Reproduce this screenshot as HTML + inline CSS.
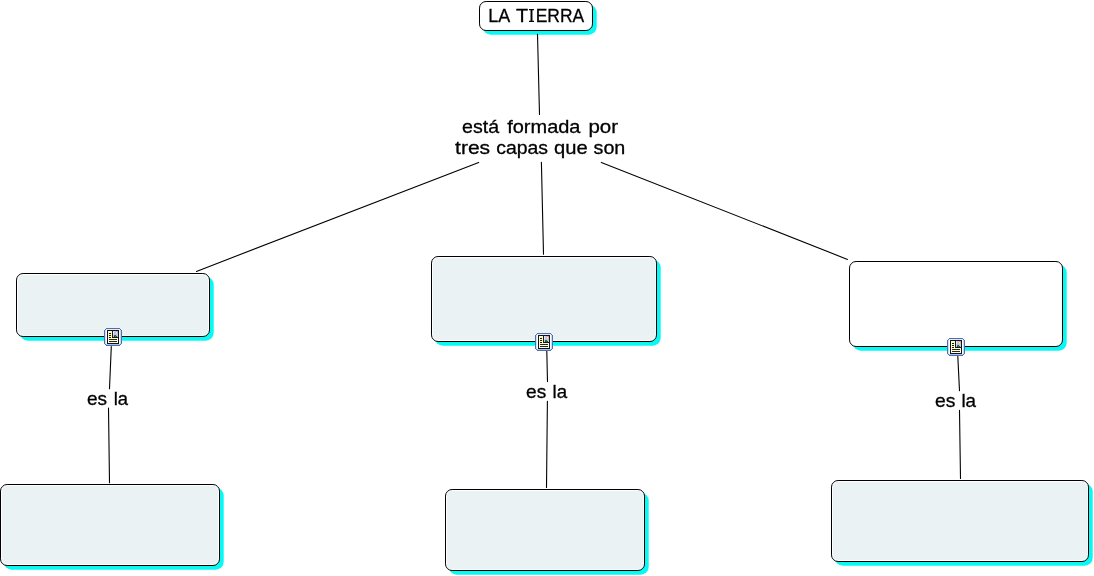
<!DOCTYPE html>
<html><head><meta charset="utf-8"><title>LA TIERRA</title>
<style>
html,body{margin:0;padding:0;background:#fff;width:1094px;height:576px;overflow:hidden}
svg{display:block;position:absolute;left:0;top:0;will-change:transform}
text{font-family:"Liberation Sans",sans-serif;fill:#000;stroke:#000;stroke-width:0.3px}
</style></head><body>
<svg width="1094" height="576" viewBox="0 0 1094 576">
<rect x="482.7" y="4.7" width="114" height="30" rx="8" fill="#08f8f4"/>
<rect x="19.7" y="276.7" width="194" height="64" rx="8" fill="#08f8f4"/>
<rect x="434.7" y="259.7" width="226" height="86" rx="8" fill="#08f8f4"/>
<rect x="852.7" y="264.7" width="214" height="86" rx="8" fill="#08f8f4"/>
<rect x="3.7" y="487.7" width="220" height="82" rx="8" fill="#08f8f4"/>
<rect x="448.7" y="492.7" width="200" height="82" rx="8" fill="#08f8f4"/>
<rect x="834.7" y="483.7" width="258" height="82" rx="8" fill="#08f8f4"/>
<g stroke="#000" stroke-width="1.1" stroke-linecap="round" fill="none">
<line x1="537.5" y1="34.2" x2="539.5" y2="114.5"/>
<line x1="478.7" y1="162.4" x2="196.4" y2="271.4"/>
<line x1="541.4" y1="162.2" x2="543.5" y2="254.3"/>
<line x1="601.3" y1="162.4" x2="847.5" y2="259.4"/>
<line x1="111.3" y1="346.5" x2="109.5" y2="388.7"/>
<line x1="108.5" y1="408.0" x2="109.5" y2="482.7"/>
<line x1="546.8" y1="351.0" x2="547.5" y2="381.6"/>
<line x1="547.4" y1="401.2" x2="546.5" y2="487.5"/>
<line x1="957.8" y1="356.2" x2="959.5" y2="390.6"/>
<line x1="959.5" y1="410.4" x2="960.5" y2="478.4"/>
</g>
<rect x="479.5" y="1.5" width="113" height="29" rx="6.6" fill="#fff" stroke="#000" stroke-width="1"/>
<rect x="16.5" y="273.5" width="193" height="63" rx="6.6" fill="#fff" stroke="#000" stroke-width="1"/>
<rect x="18" y="275" width="190" height="60" rx="5.1" fill="#eaf2f4"/>
<rect x="431.5" y="256.5" width="225" height="85" rx="6.6" fill="#fff" stroke="#000" stroke-width="1"/>
<rect x="433" y="258" width="222" height="82" rx="5.1" fill="#eaf2f4"/>
<rect x="849.5" y="261.5" width="213" height="85" rx="6.6" fill="#fff" stroke="#000" stroke-width="1"/>
<rect x="0.5" y="484.5" width="219" height="81" rx="6.6" fill="#fff" stroke="#000" stroke-width="1"/>
<rect x="2" y="486" width="216" height="78" rx="5.1" fill="#eaf2f4"/>
<rect x="445.5" y="489.5" width="199" height="81" rx="6.6" fill="#fff" stroke="#000" stroke-width="1"/>
<rect x="447" y="491" width="196" height="78" rx="5.1" fill="#eaf2f4"/>
<rect x="831.5" y="480.5" width="257" height="81" rx="6.6" fill="#fff" stroke="#000" stroke-width="1"/>
<rect x="833" y="482" width="254" height="78" rx="5.1" fill="#eaf2f4"/>
<rect x="105" y="329" width="16" height="16" fill="#ffffff"/><rect x="106" y="329" width="14" height="1" fill="#e4ecfc"/><rect x="106" y="344" width="14" height="1" fill="#a8c4f0"/><rect x="105" y="330" width="1" height="14" fill="#d0e0f8"/><rect x="120" y="330" width="1" height="14" fill="#c4d8f8"/><rect x="106" y="328" width="14" height="1" fill="#4f6eaa"/><rect x="106" y="345" width="14" height="1" fill="#4f6eaa"/><rect x="104" y="330" width="1" height="14" fill="#4f6eaa"/><rect x="121" y="330" width="1" height="14" fill="#4f6eaa"/><rect x="105" y="329" width="1" height="1" fill="#4f6eaa"/><rect x="120" y="329" width="1" height="1" fill="#4f6eaa"/><rect x="105" y="344" width="1" height="1" fill="#4f6eaa"/><rect x="120" y="344" width="1" height="1" fill="#4f6eaa"/><rect x="107" y="330" width="12" height="14" fill="#10121e"/><rect x="108" y="331" width="10" height="3" fill="#fafac0"/><rect x="108" y="334" width="10" height="3" fill="#fbfbc8"/><rect x="108" y="337" width="10" height="3" fill="#fcfcd6"/><rect x="108" y="340" width="10" height="3" fill="#fefee8"/><rect x="112" y="330" width="1" height="8" fill="#141a0c"/><rect x="112" y="337" width="6" height="1" fill="#141a0c"/><rect x="113" y="331" width="1" height="1" fill="#dde6f8"/><rect x="114" y="331" width="1" height="1" fill="#c8c8e8"/><rect x="115" y="331" width="1" height="1" fill="#e8b898"/><rect x="116" y="331" width="1" height="1" fill="#eaa878"/><rect x="117" y="331" width="1" height="1" fill="#d09a70"/><rect x="113" y="332" width="1" height="1" fill="#eef2fc"/><rect x="114" y="332" width="1" height="1" fill="#b8c0e8"/><rect x="115" y="332" width="1" height="1" fill="#e0b8c0"/><rect x="116" y="332" width="1" height="1" fill="#fce8d8"/><rect x="117" y="332" width="1" height="1" fill="#e8b088"/><rect x="113" y="333" width="1" height="1" fill="#e0e8f8"/><rect x="114" y="333" width="1" height="1" fill="#b8c8f0"/><rect x="115" y="333" width="1" height="1" fill="#d0c0e0"/><rect x="116" y="333" width="1" height="1" fill="#d8d0f0"/><rect x="117" y="333" width="1" height="1" fill="#b8c8e8"/><rect x="113" y="334" width="1" height="1" fill="#c8d8f4"/><rect x="114" y="334" width="1" height="1" fill="#b0c4ec"/><rect x="115" y="334" width="1" height="1" fill="#b0c4ec"/><rect x="116" y="334" width="1" height="1" fill="#b8cce8"/><rect x="117" y="334" width="1" height="1" fill="#c0d0e0"/><rect x="113" y="335" width="1" height="1" fill="#c0d0f0"/><rect x="114" y="335" width="1" height="1" fill="#3a6a80"/><rect x="115" y="335" width="1" height="1" fill="#2e6040"/><rect x="116" y="335" width="1" height="1" fill="#a8c8c0"/><rect x="117" y="335" width="1" height="1" fill="#c0d0e0"/><rect x="113" y="336" width="1" height="1" fill="#b8c8e8"/><rect x="114" y="336" width="1" height="1" fill="#204830"/><rect x="115" y="336" width="1" height="1" fill="#3a7a3a"/><rect x="116" y="336" width="1" height="1" fill="#2a5a2a"/><rect x="117" y="336" width="1" height="1" fill="#b0c8c8"/><rect x="109" y="333" width="2" height="1" fill="#1e1a08"/><rect x="109" y="335" width="2" height="1" fill="#1e1a08"/><rect x="109" y="337" width="2" height="1" fill="#1e1a08"/><rect x="109" y="339" width="8" height="1" fill="#2a2612"/><rect x="109" y="341" width="8" height="1" fill="#2a2612"/>
<rect x="536" y="334" width="16" height="16" fill="#ffffff"/><rect x="537" y="334" width="14" height="1" fill="#e4ecfc"/><rect x="537" y="349" width="14" height="1" fill="#a8c4f0"/><rect x="536" y="335" width="1" height="14" fill="#d0e0f8"/><rect x="551" y="335" width="1" height="14" fill="#c4d8f8"/><rect x="537" y="333" width="14" height="1" fill="#4f6eaa"/><rect x="537" y="350" width="14" height="1" fill="#4f6eaa"/><rect x="535" y="335" width="1" height="14" fill="#4f6eaa"/><rect x="552" y="335" width="1" height="14" fill="#4f6eaa"/><rect x="536" y="334" width="1" height="1" fill="#4f6eaa"/><rect x="551" y="334" width="1" height="1" fill="#4f6eaa"/><rect x="536" y="349" width="1" height="1" fill="#4f6eaa"/><rect x="551" y="349" width="1" height="1" fill="#4f6eaa"/><rect x="538" y="335" width="12" height="14" fill="#10121e"/><rect x="539" y="336" width="10" height="3" fill="#fafac0"/><rect x="539" y="339" width="10" height="3" fill="#fbfbc8"/><rect x="539" y="342" width="10" height="3" fill="#fcfcd6"/><rect x="539" y="345" width="10" height="3" fill="#fefee8"/><rect x="543" y="335" width="1" height="8" fill="#141a0c"/><rect x="543" y="342" width="6" height="1" fill="#141a0c"/><rect x="544" y="336" width="1" height="1" fill="#dde6f8"/><rect x="545" y="336" width="1" height="1" fill="#c8c8e8"/><rect x="546" y="336" width="1" height="1" fill="#e8b898"/><rect x="547" y="336" width="1" height="1" fill="#eaa878"/><rect x="548" y="336" width="1" height="1" fill="#d09a70"/><rect x="544" y="337" width="1" height="1" fill="#eef2fc"/><rect x="545" y="337" width="1" height="1" fill="#b8c0e8"/><rect x="546" y="337" width="1" height="1" fill="#e0b8c0"/><rect x="547" y="337" width="1" height="1" fill="#fce8d8"/><rect x="548" y="337" width="1" height="1" fill="#e8b088"/><rect x="544" y="338" width="1" height="1" fill="#e0e8f8"/><rect x="545" y="338" width="1" height="1" fill="#b8c8f0"/><rect x="546" y="338" width="1" height="1" fill="#d0c0e0"/><rect x="547" y="338" width="1" height="1" fill="#d8d0f0"/><rect x="548" y="338" width="1" height="1" fill="#b8c8e8"/><rect x="544" y="339" width="1" height="1" fill="#c8d8f4"/><rect x="545" y="339" width="1" height="1" fill="#b0c4ec"/><rect x="546" y="339" width="1" height="1" fill="#b0c4ec"/><rect x="547" y="339" width="1" height="1" fill="#b8cce8"/><rect x="548" y="339" width="1" height="1" fill="#c0d0e0"/><rect x="544" y="340" width="1" height="1" fill="#c0d0f0"/><rect x="545" y="340" width="1" height="1" fill="#3a6a80"/><rect x="546" y="340" width="1" height="1" fill="#2e6040"/><rect x="547" y="340" width="1" height="1" fill="#a8c8c0"/><rect x="548" y="340" width="1" height="1" fill="#c0d0e0"/><rect x="544" y="341" width="1" height="1" fill="#b8c8e8"/><rect x="545" y="341" width="1" height="1" fill="#204830"/><rect x="546" y="341" width="1" height="1" fill="#3a7a3a"/><rect x="547" y="341" width="1" height="1" fill="#2a5a2a"/><rect x="548" y="341" width="1" height="1" fill="#b0c8c8"/><rect x="540" y="338" width="2" height="1" fill="#1e1a08"/><rect x="540" y="340" width="2" height="1" fill="#1e1a08"/><rect x="540" y="342" width="2" height="1" fill="#1e1a08"/><rect x="540" y="344" width="8" height="1" fill="#2a2612"/><rect x="540" y="346" width="8" height="1" fill="#2a2612"/>
<rect x="948" y="339" width="16" height="16" fill="#ffffff"/><rect x="949" y="339" width="14" height="1" fill="#e4ecfc"/><rect x="949" y="354" width="14" height="1" fill="#a8c4f0"/><rect x="948" y="340" width="1" height="14" fill="#d0e0f8"/><rect x="963" y="340" width="1" height="14" fill="#c4d8f8"/><rect x="949" y="338" width="14" height="1" fill="#4f6eaa"/><rect x="949" y="355" width="14" height="1" fill="#4f6eaa"/><rect x="947" y="340" width="1" height="14" fill="#4f6eaa"/><rect x="964" y="340" width="1" height="14" fill="#4f6eaa"/><rect x="948" y="339" width="1" height="1" fill="#4f6eaa"/><rect x="963" y="339" width="1" height="1" fill="#4f6eaa"/><rect x="948" y="354" width="1" height="1" fill="#4f6eaa"/><rect x="963" y="354" width="1" height="1" fill="#4f6eaa"/><rect x="950" y="340" width="12" height="14" fill="#10121e"/><rect x="951" y="341" width="10" height="3" fill="#fafac0"/><rect x="951" y="344" width="10" height="3" fill="#fbfbc8"/><rect x="951" y="347" width="10" height="3" fill="#fcfcd6"/><rect x="951" y="350" width="10" height="3" fill="#fefee8"/><rect x="955" y="340" width="1" height="8" fill="#141a0c"/><rect x="955" y="347" width="6" height="1" fill="#141a0c"/><rect x="956" y="341" width="1" height="1" fill="#dde6f8"/><rect x="957" y="341" width="1" height="1" fill="#c8c8e8"/><rect x="958" y="341" width="1" height="1" fill="#e8b898"/><rect x="959" y="341" width="1" height="1" fill="#eaa878"/><rect x="960" y="341" width="1" height="1" fill="#d09a70"/><rect x="956" y="342" width="1" height="1" fill="#eef2fc"/><rect x="957" y="342" width="1" height="1" fill="#b8c0e8"/><rect x="958" y="342" width="1" height="1" fill="#e0b8c0"/><rect x="959" y="342" width="1" height="1" fill="#fce8d8"/><rect x="960" y="342" width="1" height="1" fill="#e8b088"/><rect x="956" y="343" width="1" height="1" fill="#e0e8f8"/><rect x="957" y="343" width="1" height="1" fill="#b8c8f0"/><rect x="958" y="343" width="1" height="1" fill="#d0c0e0"/><rect x="959" y="343" width="1" height="1" fill="#d8d0f0"/><rect x="960" y="343" width="1" height="1" fill="#b8c8e8"/><rect x="956" y="344" width="1" height="1" fill="#c8d8f4"/><rect x="957" y="344" width="1" height="1" fill="#b0c4ec"/><rect x="958" y="344" width="1" height="1" fill="#b0c4ec"/><rect x="959" y="344" width="1" height="1" fill="#b8cce8"/><rect x="960" y="344" width="1" height="1" fill="#c0d0e0"/><rect x="956" y="345" width="1" height="1" fill="#c0d0f0"/><rect x="957" y="345" width="1" height="1" fill="#3a6a80"/><rect x="958" y="345" width="1" height="1" fill="#2e6040"/><rect x="959" y="345" width="1" height="1" fill="#a8c8c0"/><rect x="960" y="345" width="1" height="1" fill="#c0d0e0"/><rect x="956" y="346" width="1" height="1" fill="#b8c8e8"/><rect x="957" y="346" width="1" height="1" fill="#204830"/><rect x="958" y="346" width="1" height="1" fill="#3a7a3a"/><rect x="959" y="346" width="1" height="1" fill="#2a5a2a"/><rect x="960" y="346" width="1" height="1" fill="#b0c8c8"/><rect x="952" y="343" width="2" height="1" fill="#1e1a08"/><rect x="952" y="345" width="2" height="1" fill="#1e1a08"/><rect x="952" y="347" width="2" height="1" fill="#1e1a08"/><rect x="952" y="349" width="8" height="1" fill="#2a2612"/><rect x="952" y="351" width="8" height="1" fill="#2a2612"/>
<path d="M529 9h5v1.2h-1.55v10.6h1.55v1.2h-5v-1.2h1.55v-10.6h-1.55z" fill="#000"/>
<text x="488.32" y="22" font-size="19" textLength="21.90" lengthAdjust="spacingAndGlyphs">LA</text>
<text x="516.05" y="22" font-size="19" textLength="12.11" lengthAdjust="spacingAndGlyphs">T</text>
<text x="535.66" y="22" font-size="19" textLength="48.48" lengthAdjust="spacingAndGlyphs">ERRA</text>
<text x="462.11" y="132.5" font-size="18.5" textLength="37.04" lengthAdjust="spacingAndGlyphs">está</text>
<text x="507.20" y="132.5" font-size="18.5" textLength="73.31" lengthAdjust="spacingAndGlyphs">formada</text>
<text x="588.42" y="132.5" font-size="18.5" textLength="29.62" lengthAdjust="spacingAndGlyphs">por</text>
<text x="455.06" y="154.4" font-size="18.5" textLength="35.11" lengthAdjust="spacingAndGlyphs">tres</text>
<text x="496.22" y="154.4" font-size="18.5" textLength="51.80" lengthAdjust="spacingAndGlyphs">capas</text>
<text x="553.99" y="154.4" font-size="18.5" textLength="33.69" lengthAdjust="spacingAndGlyphs">que</text>
<text x="593.55" y="154.4" font-size="18.5" textLength="31.78" lengthAdjust="spacingAndGlyphs">son</text>
<text x="86.93" y="405" font-size="18.5" textLength="20.10" lengthAdjust="spacingAndGlyphs">es</text>
<text x="113.73" y="405" font-size="18.5" textLength="14.35" lengthAdjust="spacingAndGlyphs">la</text>
<text x="526.03" y="398" font-size="18.5" textLength="20.20" lengthAdjust="spacingAndGlyphs">es</text>
<text x="552.61" y="398" font-size="18.5" textLength="14.57" lengthAdjust="spacingAndGlyphs">la</text>
<text x="934.92" y="407" font-size="18.5" textLength="20.42" lengthAdjust="spacingAndGlyphs">es</text>
<text x="961.41" y="407" font-size="18.5" textLength="14.68" lengthAdjust="spacingAndGlyphs">la</text>
</svg>
</body></html>
